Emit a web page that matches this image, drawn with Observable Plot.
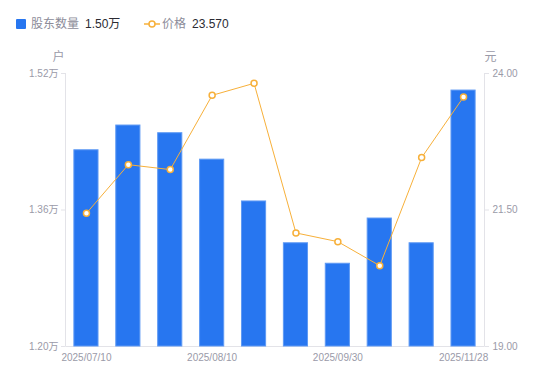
<!DOCTYPE html>
<html>
<head>
<meta charset="utf-8">
<script src="https://cdn.jsdelivr.net/npm/d3@7"></script>
<script src="https://cdn.jsdelivr.net/npm/@observablehq/plot@0.6"></script>
<style>
  html, body { margin: 0; padding: 0; background: #fff; }
  body { width: 550px; height: 381px; position: relative; overflow: hidden;
         font-family: "Liberation Sans", "Noto Sans CJK SC", sans-serif; }
  #legend { position: absolute; left: 0; top: 0; width: 550px; height: 40px; font-size: 12px; }
  #legend span { position: absolute; top: 17px; line-height: 14px; white-space: nowrap; }
  #chart { position: absolute; left: 0; top: 40px; }
</style>
</head>
<body>
<div id="legend">
  <div style="position:absolute;left:16px;top:19px;width:10px;height:10px;background:#2776f0;border-radius:1px;"></div>
  <span style="left:31px;color:#8c8c99;">股东数量</span>
  <span style="left:85px;color:#2b2b33;">1.50万</span>
  <svg style="position:absolute;left:144px;top:18px;" width="16" height="12">
    <line x1="0" y1="6" x2="16" y2="6" stroke="#f7b03a" stroke-width="1.5"/>
    <circle cx="8" cy="6" r="3" fill="#fff" stroke="#f7b03a" stroke-width="1.5"/>
  </svg>
  <span style="left:162px;color:#8c8c99;">价格</span>
  <span style="left:192px;color:#2b2b33;">23.570</span>
</div>
<div id="chart"></div>
<script>
const dates = ["2025/07/10","2025/07/20","2025/07/31","2025/08/10","2025/08/20","2025/08/29","2025/09/30","2025/10/31","2025/11/10","2025/11/28"];
const holders = [14300, 14590, 14500, 14190, 13700, 13210, 12970, 13500, 13210, 15000];
const prices = [21.44, 22.33, 22.24, 23.60, 23.82, 21.08, 20.92, 20.48, 22.46, 23.57];
const xTickLabels = ["2025/07/10","2025/08/10","2025/09/30","2025/11/28"];
const leftTicks = [12000, 13600, 15200];
const rightTicks = [19.00, 21.50, 24.00];

const leftDomain = [12000, 15200];
const rightDomain = [19, 24];
const toLeft = p => leftDomain[0] + (p - rightDomain[0]) / (rightDomain[1] - rightDomain[0]) * (leftDomain[1] - leftDomain[0]);
const toRight = v => rightDomain[0] + (v - leftDomain[0]) / (leftDomain[1] - leftDomain[0]) * (rightDomain[1] - rightDomain[0]);

const data = dates.map((d, i) => ({date: d, holders: holders[i], price: prices[i], priceY: toLeft(prices[i])}));

const axisColor = "#e3e3e8";
const labelColor = "#9a9aa8";
const orange = "#f7b03a";

const frameLines = (index, scales, values, dims) => {
  const {width, height, marginLeft, marginRight, marginTop, marginBottom} = dims;
  const g = d3.create("svg:g");
  g.append("path")
    .attr("d", `M${marginLeft + 0.5},${marginTop}V${height - marginBottom + 0.5}H${width - marginRight + 0.5}V${marginTop}`)
    .attr("fill", "none").attr("stroke", axisColor).attr("stroke-width", 1);
  return g.node();
};

const chart = Plot.plot({
  width: 550,
  height: 341,
  marginTop: 33,
  marginBottom: 35,
  marginLeft: 65,
  marginRight: 66,
  style: {fontFamily: '"Liberation Sans", "Noto Sans CJK SC", sans-serif', fontSize: "10px", color: labelColor, background: "transparent"},
  x: {domain: dates, paddingInner: 0.4, paddingOuter: 0.2, round: false, label: null},
  y: {domain: leftDomain, label: null},
  marks: [
    frameLines,
    Plot.barY(data, {x: "date", y1: leftDomain[0], y2: "holders", fill: "#2776f0", stroke: "#5e99f4", strokeWidth: 1, insetLeft: 0.5, insetRight: 0.5}),
    Plot.line(data, {x: "date", y: "priceY", stroke: orange, strokeWidth: 1}),
    Plot.dot(data, {x: "date", y: "priceY", r: 3, fill: "#fff", stroke: orange, strokeWidth: 1.5}),
    Plot.axisY({anchor: "left", ticks: leftTicks, tickFormat: d => (d / 10000).toFixed(2) + "万", tickSize: 4, tickPadding: 3, stroke: axisColor, fill: labelColor, label: null}),
    Plot.axisY({anchor: "right", ticks: rightTicks.map(toLeft), tickFormat: d => toRight(d).toFixed(2), tickSize: 4, tickPadding: 4, stroke: axisColor, fill: labelColor, label: null}),
    Plot.axisX({ticks: xTickLabels, tickSize: 0, tickPadding: 7, fill: labelColor, label: null}),
    Plot.text(["户"], {frameAnchor: "top-left", textAnchor: "middle", lineAnchor: "middle", dx: -7, dy: -16, fill: labelColor, fontSize: 12}),
    Plot.text(["元"], {frameAnchor: "top-right", textAnchor: "middle", lineAnchor: "middle", dx: 6, dy: -16, fill: labelColor, fontSize: 12})
  ]
});
document.getElementById("chart").appendChild(chart);
</script>
</body>
</html>
